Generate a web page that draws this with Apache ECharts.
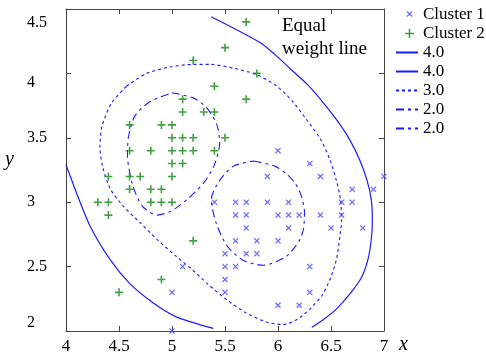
<!DOCTYPE html>
<html><head><meta charset="utf-8">
<script src="https://cdn.jsdelivr.net/npm/echarts@6.0.0/dist/echarts.min.js"></script>
<style>html,body{margin:0;padding:0;background:#fff}#c{width:486px;height:357px}</style>
</head><body><div id="c"></div>
<script>
// ---------- data ----------
const cluster1 = [
  [5.9,3.2],[6.4,3.2],[7.0,3.2],[6.0,3.4],[6.3,3.3],[6.7,3.1],[6.9,3.1],
  [5.4,3.0],[5.6,3.0],[5.7,3.0],[5.9,3.0],[6.1,3.0],[6.6,3.0],[6.7,3.0],
  [5.6,2.9],[5.7,2.9],[6.0,2.9],[6.1,2.9],[6.2,2.9],[6.4,2.9],[6.6,2.9],
  [5.7,2.8],[6.1,2.8],[6.5,2.8],[6.8,2.8],
  [5.6,2.7],[5.8,2.7],[6.0,2.7],
  [5.5,2.6],[5.7,2.6],[5.8,2.6],
  [5.1,2.5],[5.5,2.5],[5.6,2.5],[6.3,2.5],
  [5.5,2.4],
  [5.0,2.3],[5.5,2.3],[6.3,2.3],
  [6.0,2.2],[6.2,2.2],
  [5.0,2.0]
];
const cluster2 = [
  [5.7,4.4],[5.5,4.2],[5.2,4.1],[5.8,4.0],[5.4,3.9],[5.7,3.8],[5.1,3.8],
  [5.1,3.7],[5.3,3.7],[5.4,3.7],
  [4.6,3.6],[4.9,3.6],[5.0,3.6],
  [5.0,3.5],[5.1,3.5],[5.2,3.5],[5.5,3.5],
  [4.6,3.4],[4.8,3.4],[5.0,3.4],[5.1,3.4],[5.2,3.4],[5.4,3.4],
  [5.0,3.3],[5.1,3.3],
  [4.4,3.2],[4.6,3.2],[4.7,3.2],[5.0,3.2],
  [4.6,3.1],[4.8,3.1],[4.9,3.1],
  [4.3,3.0],[4.4,3.0],[4.8,3.0],[4.9,3.0],[5.0,3.0],
  [4.4,2.9],
  [5.2,2.7],[4.9,2.4],[4.5,2.3]
];
// equal weight lines
const level4Upper = [
  [5.37,4.44],[5.83,4.24],[5.98,4.14],[6.11,4.04],[6.27,3.92],[6.43,3.77],[6.58,3.61],
  [6.68,3.48],[6.77,3.33],[6.84,3.17],[6.88,3.02],[6.89,2.86],[6.88,2.71],[6.85,2.56],
  [6.79,2.42],[6.68,2.29],[6.55,2.17],[6.43,2.09],[6.32,2.03]
];
const level4Lower = [
  [4.00,3.29],[4.05,3.18],[4.10,3.07],[4.23,2.81],[4.42,2.55],[4.60,2.37],[4.82,2.22],
  [5.04,2.11],[5.26,2.05],[5.39,2.02]
];
const level3 = [
  [4.57,3.90],[4.76,4.00],[4.98,4.05],[5.20,4.07],[5.36,4.07],[5.58,4.04],[5.80,3.99],
  [5.99,3.90],[6.13,3.79],[6.27,3.64],[6.40,3.49],[6.49,3.33],[6.55,3.17],[6.59,3.02],
  [6.60,2.86],[6.58,2.71],[6.55,2.55],[6.49,2.40],[6.41,2.27],[6.30,2.17],[6.18,2.09],
  [6.05,2.05],[5.89,2.07],[5.70,2.14],[5.52,2.24],[5.33,2.37],[5.20,2.47],[5.04,2.58],
  [4.86,2.71],[4.70,2.84],[4.54,2.97],[4.42,3.10],[4.35,3.26],[4.32,3.43],[4.34,3.59],
  [4.43,3.77],[4.57,3.90]
];
const level2Left = [
  [5.00,3.85],[5.20,3.81],[5.32,3.74],[5.42,3.61],[5.45,3.46],[5.40,3.29],[5.30,3.15],
  [5.14,3.02],[4.99,2.93],[4.86,2.90],[4.72,2.97],[4.63,3.13],[4.58,3.36],[4.59,3.51],
  [4.65,3.67],[4.79,3.78],[5.00,3.85]
];
const level2Right = [
  [5.77,3.32],[5.97,3.28],[6.08,3.22],[6.16,3.15],[6.22,3.05],[6.25,2.92],[6.24,2.79],
  [6.20,2.70],[6.08,2.58],[5.86,2.51],[5.67,2.55],[5.52,2.66],[5.42,2.83],[5.37,3.02],
  [5.45,3.17],[5.58,3.28],[5.77,3.32]
];
const seriesNames = ['Cluster 1','Cluster 2','4.0 a','4.0 b','3.0','2.0 a','2.0 b'];
const legendLabels = {'Cluster 1':'Cluster 1','Cluster 2':'Cluster 2','4.0 a':'4.0','4.0 b':'4.0','3.0':'3.0','2.0 a':'2.0','2.0 b':'2.0'};
const noteText = 'Equal\nweight line';

// ---------- chart ----------
const SERIF = 'Liberation Serif';
const BLUE = '#1a1aff';
const XBLUE = '#4a4aff';
const GREEN = '#138a13';
const xSym = 'path://M0,1.5L1.5,0L5,3.5L8.5,0L10,1.5L6.5,5L10,8.5L8.5,10L5,6.5L1.5,10L0,8.5L3.5,5Z';
const pSym = 'path://M4,0H6V4H10V6H6V10H4V6H0V4H4Z';
const noSym = 'path://M0,0M1,1';
const xLegendIcon = 'path://M0,0M22,14M10.5,4.4L11.4,3.5L13.5,5.6L15.6,3.5L16.5,4.4L14.4,6.5L16.5,8.6L15.6,9.5L13.5,7.4L11.4,9.5L10.5,8.6L12.6,6.5Z';
const pLegendIcon = 'path://M0,0M22,14M12.7,2.5H14.3V6.2H18V7.8H14.3V11.5H12.7V7.8H9V6.2H12.7Z';

const yShift = {'4.5':'d14','4':'d9','2':'u8'};
const richBase = {fontFamily: SERIF, fontSize: 16, color: '#000'};

function lineSeries(name, data, type, width) {
  return {
    name, type: 'line', data, symbol: noSym, showSymbol: false, smooth: 0.25,
    lineStyle: {color: BLUE, width: width || 1.1, type: type},
    itemStyle: {color: BLUE}, z: 2, animation: false
  };
}

const chart = echarts.init(document.getElementById('c'), null, {renderer: 'canvas'});
chart.setOption({
  animation: false,
  backgroundColor: '#fff',
  grid: {left: 66, right: 102, top: 9, bottom: 26},
  legend: {
    orient: 'vertical', left: 395, top: 6, padding: 0,
    itemWidth: 22, itemHeight: 14, itemGap: 2,
    textStyle: {fontFamily: SERIF, fontSize: 17, color: '#000'},
    formatter: n => legendLabels[n],
    data: [
      {name: 'Cluster 1', icon: xLegendIcon},
      {name: 'Cluster 2', icon: pLegendIcon},
      '4.0 a','4.0 b','3.0','2.0 a','2.0 b'
    ]
  },
  xAxis: [{
    type: 'value', min: 4, max: 7, interval: 0.5, position: 'bottom',
    name: 'x', nameLocation: 'end', nameGap: 15,
    nameTextStyle: {fontFamily: SERIF, fontStyle: 'italic', fontSize: 20, color: '#000', verticalAlign: 'top', align: 'left', padding: [4,0,0,0]},
    axisLine: {show: true, lineStyle: {color: '#444', width: 1}},
    axisTick: {show: true, inside: true, length: 5, lineStyle: {color: '#444'}},
    axisLabel: {show: true, margin: 7, fontFamily: SERIF, fontSize: 17, color: '#000', showMinLabel: true, showMaxLabel: true,
      formatter: v => String(v)},
    splitLine: {show: false}
  }, {
    type: 'value', min: 4, max: 7, interval: 0.5, position: 'top',
    axisLine: {show: true, lineStyle: {color: '#444', width: 1}},
    axisTick: {show: true, inside: true, length: 5, lineStyle: {color: '#444'}},
    axisLabel: {show: false}, splitLine: {show: false}
  }],
  yAxis: [{
    type: 'value', min: 2, max: 4.5, interval: 0.5, position: 'left',
    name: 'y', nameLocation: 'middle', nameRotate: 0, nameGap: 52,
    nameTextStyle: {fontFamily: SERIF, fontStyle: 'italic', fontSize: 20, color: '#000', verticalAlign: 'bottom'},
    axisLine: {show: true, lineStyle: {color: '#444', width: 1}},
    axisTick: {show: true, inside: true, length: 5, lineStyle: {color: '#444'}},
    axisLabel: {show: true, margin: 39, align: 'left', showMinLabel: true, showMaxLabel: true,
      fontFamily: SERIF, fontSize: 16, color: '#000',
      formatter: v => '{' + (yShift[String(v)] || 'n') + '|' + v + '}',
      rich: {
        n: Object.assign({}, richBase),
        d14: Object.assign({padding: [28,0,0,0]}, richBase),
        d9: Object.assign({padding: [18,0,0,0]}, richBase),
        u8: Object.assign({padding: [0,0,16,0]}, richBase)
      }},
    splitLine: {show: false}
  }, {
    type: 'value', min: 2, max: 4.5, interval: 0.5, position: 'right',
    axisLine: {show: true, lineStyle: {color: '#444', width: 1}},
    axisTick: {show: true, inside: true, length: 5, lineStyle: {color: '#444'}},
    axisLabel: {show: false}, splitLine: {show: false}
  }],
  graphic: [{
    type: 'text', left: 282, top: 15, z: 10,
    style: {text: noteText, fontFamily: SERIF, fontSize: 19, lineHeight: 23, fill: '#000'}
  }],
  series: [
    {name: seriesNames[0], type: 'scatter', data: cluster1, symbol: xSym, symbolSize: 6, clip: false,
      itemStyle: {color: XBLUE}, z: 3},
    {name: seriesNames[1], type: 'scatter', data: cluster2, symbol: pSym, symbolSize: 8, clip: false,
      itemStyle: {color: GREEN}, z: 3},
    lineSeries(seriesNames[2], level4Upper, 'solid', 1.2),
    lineSeries(seriesNames[3], level4Lower, 'solid', 1.2),
    lineSeries(seriesNames[4], level3, [3,3], 1.1),
    lineSeries(seriesNames[5], level2Left, [8,4,3,4], 1.1),
    lineSeries(seriesNames[6], level2Right, [8,4,3,4], 1.1)
  ]
});
</script>
</body></html>
